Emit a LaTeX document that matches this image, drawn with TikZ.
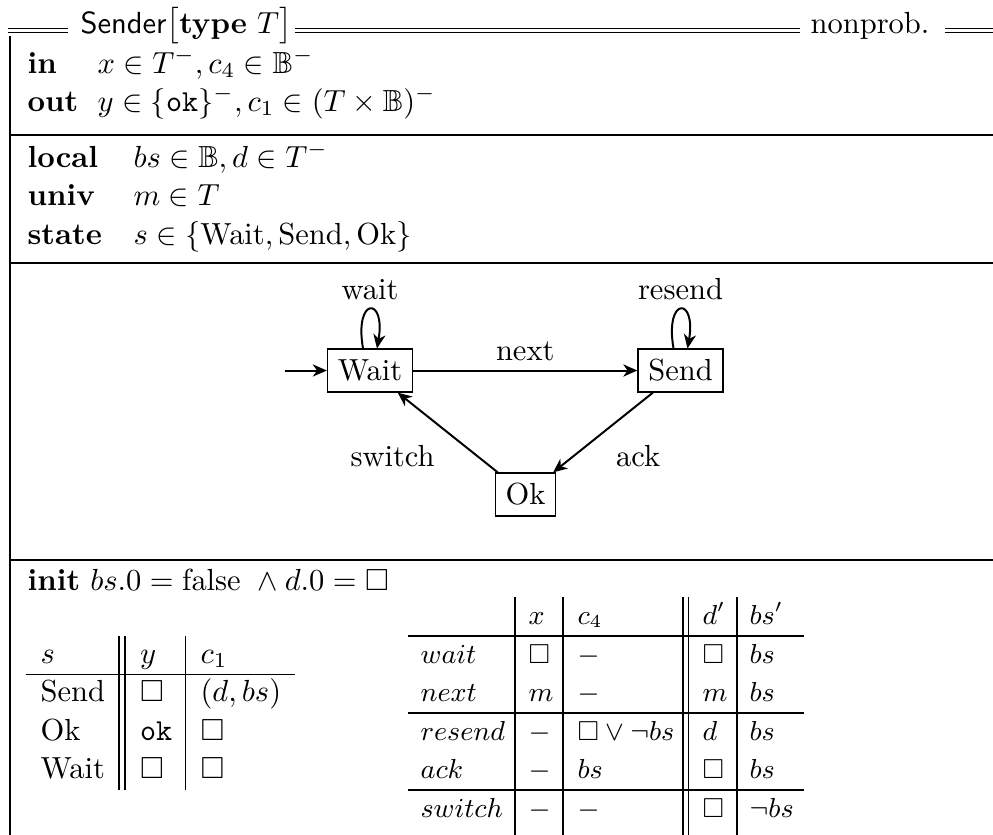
\documentclass[tikz,border=0pt]{standalone}
\usepackage{amsmath,amssymb}
\usetikzlibrary{arrows.meta,calc}
\begin{document}
\begin{tikzpicture}[x=0.32787pt,y=-0.32787pt,
  txt/.style={inner sep=0pt, anchor=base west},
  rtxt/.style={inner sep=0pt, anchor=base west, font=\small},
  rulel/.style={line width=0.4pt},
  dblrule/.style={line width=0.4pt, double, double distance=0.9pt},
  statebox/.style={draw, line width=0.4pt, inner xsep=3.4pt, inner ysep=0pt, minimum height=14.1pt},
  arr/.style={-{Stealth[length=4.6pt,width=4pt,inset=1.4pt]}, line width=0.65pt},
  lbl/.style={inner sep=0pt}]
\useasboundingbox (0,0) rectangle (993,834);

% header
\node[txt] (title) at (80,33) {\textsf{Sender}$\bigl[\textbf{type}\ T\bigr]$};
\node[txt] (tag) at (810,33) {nonprob.};
\draw[dblrule] (8,30.5) -- (68,30.5);
\draw[dblrule] (295,30.5) -- (800,30.5);
\draw[dblrule] (945,30.5) -- (995,30.5);

% frame
\draw[rulel] (10,36) -- (10,836);
\draw[rulel] (10,135) -- (995,135);
\draw[rulel] (10,263) -- (995,263);
\draw[rulel] (10,560) -- (995,560);

% declarations
\node[txt] (kin) at (27,73) {\textbf{in}};
\node[txt] (vin) at (97,73) {$x \in T^-, c_4 \in \mathbb{B}^-$};
\node[txt] (kout) at (27,111) {\textbf{out}};
\node[txt] (vout) at (97,111) {$y \in \{\mathtt{ok}\}^-, c_1 \in (T \times \mathbb{B})^-$};
\node[txt] (kloc) at (27,167) {\textbf{local}};
\node[txt] (vloc) at (133,167) {$bs \in \mathbb{B}, d \in T^-$};
\node[txt] (kuniv) at (27,205.5) {\textbf{univ}};
\node[txt] (vuniv) at (133,205.5) {$m \in T$};
\node[txt] (kstate) at (27,244) {\textbf{state}};
\node[txt] (vstate) at (133,244) {$s \in \{\mathrm{Wait}, \mathrm{Send}, \mathrm{Ok}\}$};

% automaton
\node[statebox] (wait) at (370,370.5) {Wait};
\node[statebox] (send) at (680.5,370.5) {Send};
\node[statebox] (ok) at (525.5,494.5) {Ok};
\coordinate (start) at (285,370.5);
\draw[arr] (start) -- (wait);
\draw[arr] (wait) -- node[lbl, above=3pt] (lnext) {next} (send);
\draw[arr] (send) -- node[pos=0.5, anchor=north west, inner sep=4pt] (lack) {ack} (ok);
\draw[arr] (ok) -- node[pos=0.5, anchor=north east, inner sep=4pt] (lswitch) {switch} (wait);
\draw[arr] ($(wait.north)+(-7,0)$) .. controls +(-9,-52) and +(9,-52) .. ($(wait.north)+(7,0)$);
\draw[arr] ($(send.north)+(-7,0)$) .. controls +(-9,-52) and +(9,-52) .. ($(send.north)+(7,0)$);
\node[lbl, anchor=base] (lwait) at ($(wait.north)+(0,-49)$) {wait};
\node[lbl, anchor=base] (lresend) at ($(send.north)+(0,-49)$) {resend};

% init
\node[txt] (init) at (27,590) {\textbf{init} $bs.0 = \mathrm{false}\ \wedge d.0 = \Box$};

% left table
\node[txt] (a11) at (40,663) {$s$};
\node[txt] (a12) at (139.5,663) {$y$};
\node[txt] (a13) at (200,663) {$c_1$};
\node[txt] (a21) at (40,701.5) {Send};
\node[txt] (a22) at (139.5,701.5) {$\Box$};
\node[txt] (a23) at (200,701.5) {$(d, bs)$};
\node[txt] (a31) at (40,740) {Ok};
\node[txt] (a32) at (139.5,740) {$\mathtt{ok}$};
\node[txt] (a33) at (200,740) {$\Box$};
\node[txt] (a41) at (40,778.5) {Wait};
\node[txt] (a42) at (139.5,778.5) {$\Box$};
\node[txt] (a43) at (200,778.5) {$\Box$};
\draw[rulel] (26,674.5) -- (295,674.5);
\draw[rulel] (119,636) -- (119,790);
\draw[rulel] (125,636) -- (125,790);
\draw[rulel] (185.7,636) -- (185.7,790);

% right table
\node[rtxt] (b12) at (528,624) {$x$};
\node[rtxt] (b13) at (577,624) {$c_4$};
\node[rtxt] (b14) at (702,624) {$d'$};
\node[rtxt] (b15) at (749,624) {$bs'$};
\node[rtxt] (b21) at (420,663) {$wait$};
\node[rtxt] (b22) at (528,663) {$\Box$};
\node[rtxt] (b23) at (577,663) {$-$};
\node[rtxt] (b24) at (702,663) {$\Box$};
\node[rtxt] (b25) at (749,663) {$bs$};
\node[rtxt] (b31) at (420,701.5) {$next$};
\node[rtxt] (b32) at (528,701.5) {$m$};
\node[rtxt] (b33) at (577,701.5) {$-$};
\node[rtxt] (b34) at (702,701.5) {$m$};
\node[rtxt] (b35) at (749,701.5) {$bs$};
\node[rtxt] (b41) at (420,740) {$resend$};
\node[rtxt] (b42) at (528,740) {$-$};
\node[rtxt] (b43) at (577,740) {$\Box \vee \neg bs$};
\node[rtxt] (b44) at (702,740) {$d$};
\node[rtxt] (b45) at (749,740) {$bs$};
\node[rtxt] (b51) at (420,778.5) {$ack$};
\node[rtxt] (b52) at (528,778.5) {$-$};
\node[rtxt] (b53) at (577,778.5) {$bs$};
\node[rtxt] (b54) at (702,778.5) {$\Box$};
\node[rtxt] (b55) at (749,778.5) {$bs$};
\node[rtxt] (b61) at (420,817) {$switch$};
\node[rtxt] (b62) at (528,817) {$-$};
\node[rtxt] (b63) at (577,817) {$-$};
\node[rtxt] (b64) at (702,817) {$\Box$};
\node[rtxt] (b65) at (749,817) {$\neg bs$};
\draw[rulel] (408,636) -- (804,636);
\draw[rulel] (408,713) -- (804,713);
\draw[rulel] (408,790) -- (804,790);
\draw[rulel] (515,597) -- (515,836);
\draw[rulel] (563,597) -- (563,836);
\draw[rulel] (683,597) -- (683,836);
\draw[rulel] (688.5,597) -- (688.5,836);
\draw[rulel] (737,597) -- (737,836);
\end{tikzpicture}
\end{document}
